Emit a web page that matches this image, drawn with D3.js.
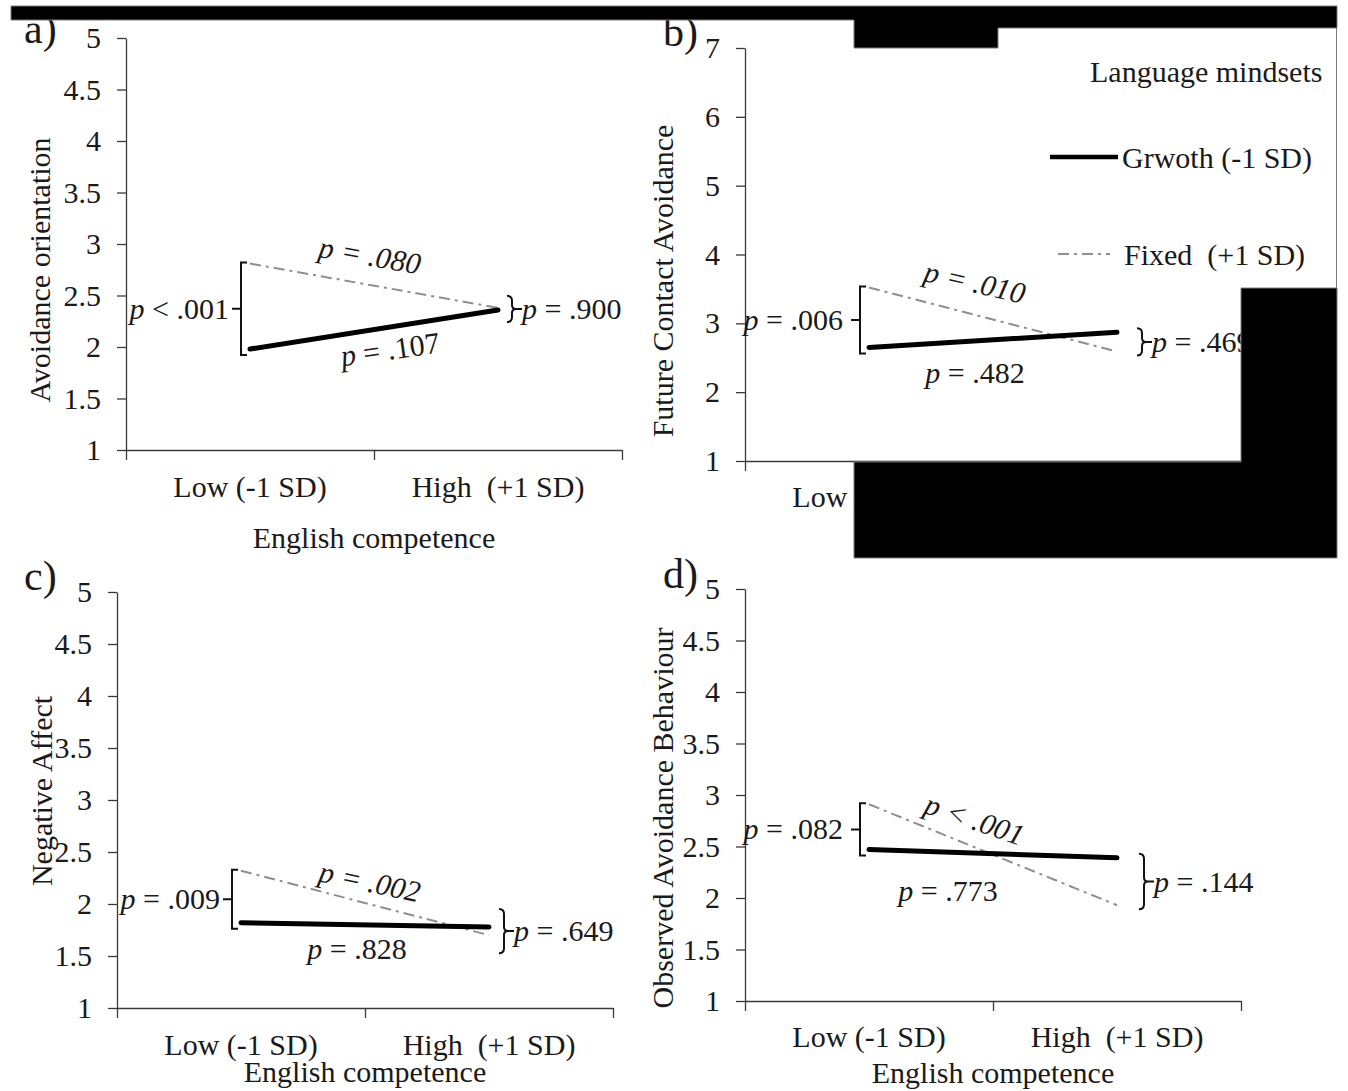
<!DOCTYPE html>
<html>
<head>
<meta charset="utf-8">
<script src="https://cdn.jsdelivr.net/npm/d3@7"></script>
<style>
  html, body { margin: 0; padding: 0; background: #fff; }
  svg { display: block; }
  text { font-family: "Liberation Serif", "Times New Roman", serif; fill: #1a1a1a; white-space: pre; }
</style>
</head>
<body>
<svg id="chart" width="1348" height="1091"></svg>
<script>
// ---------------- data ----------------
const categories = ["Low (-1 SD)", "High  (+1 SD)"];
const seriesNames = ["Grwoth (-1 SD)", "Fixed  (+1 SD)"];
const legendTitle = "Language mindsets";
const xAxisTitle = "English competence";

const ticks1to5 = [1, 1.5, 2, 2.5, 3, 3.5, 4, 4.5, 5];
const ticks1to7 = [1, 2, 3, 4, 5, 6, 7];

const growthA = [1.98, 2.36];
const fixedA  = [2.81, 2.38];
const growthB = [2.65, 2.87];
const fixedB  = [3.52, 2.59];
const growthC = [1.82, 1.78];
const fixedC  = [2.32, 1.70];
const growthD = [2.47, 2.39];
const fixedD  = [2.91, 1.93];

// p-value labels: [left bracket (Low), fixed slope, growth slope, right bracket (High)]
const pA = ["< .001", "= .080", "= .107", "= .900"];
const pB = ["= .006", "= .010", "= .482", "= .469"];
const pC = ["= .009", "= .002", "= .828", "= .649"];
const pD = ["= .082", "< .001", "= .773", "= .144"];

// ---------------- layout ----------------
const panels = [
  { letter: "a)", lx: 24, ly: 43, ax: 126, top: 38, bottom: 450, right: 622,
    domain: [1, 5], ticks: ticks1to5, title: "Avoidance orientation", tx: 39, ty: 270,
    growth: growthA, fixed: fixedA, p: pA, catY: 497, xtY: 548,
    lGap: 3, rGap: 9, rPad: 12,
    fOff: [-4, -31, 10], gOff: [16, 19, -8] },
  { letter: "b)", lx: 663, ly: 46, ax: 745, top: 48, bottom: 461, right: 1241,
    domain: [1, 7], ticks: ticks1to7, title: "Future Contact Avoidance", tx: 662, ty: 281,
    growth: growthB, fixed: fixedB, p: pB, catY: 507, xtY: 552,
    lGap: 8, rGap: 20, rPad: 4,
    fOff: [-18, -38, 13], gOff: [-18, 32, 0], legend: true },
  { letter: "c)", lx: 24, ly: 590, ax: 117, top: 592, bottom: 1008, right: 613,
    domain: [1, 5], ticks: ticks1to5, title: "Negative Affect", tx: 41, ty: 791,
    growth: growthC, fixed: fixedC, p: pC, catY: 1055, xtY: 1082,
    lGap: 3, rGap: 10, rPad: 18,
    fOff: [5, -22, 12], gOff: [-8, 23, 0] },
  { letter: "d)", lx: 663, ly: 588, ax: 745, top: 589, bottom: 1001, right: 1241,
    domain: [1, 5], ticks: ticks1to5, title: "Observed Avoidance Behaviour", tx: 662, ty: 818,
    growth: growthD, fixed: fixedD, p: pD, catY: 1047, xtY: 1083,
    lGap: 8, rGap: 22, rPad: 4,
    fOff: [-18, -36, 19], gOff: [-45, 36, 0] }
];

const FS = 30;
const axisColor = "#3a3a3a";
const fixedColor = "#8f8f8f";
const dashPattern = "11,5,3,5";

const svg = d3.select("#chart");

function pText(g, str, italicAll) {
  g.append("tspan").attr("font-style", "italic").text("p");
  g.append("tspan").attr("font-style", italicAll ? "italic" : "normal").text(" " + str);
}

panels.forEach(P => {
  const g = svg.append("g");
  const y = d3.scaleLinear().domain(P.domain).range([P.bottom, P.top]);
  const x = d3.scaleLinear().domain([0, 2]).range([P.ax, P.right]);
  const cx = [0.5, 1.5];

  const ya = g.append("g").attr("transform", `translate(${P.ax},0)`)
    .call(d3.axisLeft(y).tickValues(P.ticks).tickFormat(d => String(d))
      .tickSize(9).tickSizeOuter(0).tickPadding(16));
  ya.select(".domain").attr("stroke", axisColor).attr("stroke-width", 1.3);
  ya.selectAll(".tick line").attr("stroke", axisColor).attr("stroke-width", 1.3);
  ya.selectAll(".tick text").attr("font-size", FS).attr("font-family", "Liberation Serif").attr("fill", "#1a1a1a");

  const xa = g.append("g").attr("transform", `translate(0,${P.bottom})`)
    .call(d3.axisBottom(x).tickValues([0, 1, 2]).tickFormat(() => "")
      .tickSize(10).tickSizeOuter(0));
  xa.select(".domain").attr("stroke", axisColor).attr("stroke-width", 1.3);
  xa.selectAll(".tick line").attr("stroke", axisColor).attr("stroke-width", 1.3);

  g.selectAll(".cat").data(categories).join("text")
    .attr("x", (d, i) => x(cx[i])).attr("y", P.catY)
    .attr("text-anchor", "middle").attr("font-size", FS).text(d => d);

  g.append("text").attr("x", x(1)).attr("y", P.xtY)
    .attr("text-anchor", "middle").attr("font-size", FS).text(xAxisTitle);

  g.append("text").attr("transform", `translate(${P.tx},${P.ty}) rotate(-90)`)
    .attr("text-anchor", "middle").attr("dominant-baseline", "central")
    .attr("font-size", FS).text(P.title);

  g.append("text").attr("x", P.lx).attr("y", P.ly).attr("font-size", 42).text(P.letter);

  const line = d3.line().x((d, i) => x(cx[i])).y(d => y(d));
  g.append("path").datum(P.fixed).attr("d", line)
    .attr("fill", "none").attr("stroke", fixedColor).attr("stroke-width", 2)
    .attr("stroke-dasharray", dashPattern);
  g.append("path").datum(P.growth).attr("d", line)
    .attr("fill", "none").attr("stroke", "#000").attr("stroke-width", 5)
    .attr("stroke-linecap", "round");

  // left bracket "[" at Low
  const bxL = x(cx[0]) - 9;
  const yL = [y(P.fixed[0]), y(P.growth[0])];
  const lt = Math.min(...yL) - 1, lb = Math.max(...yL) + 6;
  const lm = (lt + lb) / 2;
  g.append("path")
    .attr("d", `M${bxL + 6},${lt} L${bxL},${lt} L${bxL},${lb} L${bxL + 6},${lb} M${bxL},${lm} L${bxL - 9},${lm}`)
    .attr("fill", "none").attr("stroke", "#111").attr("stroke-width", 2);
  const tl = g.append("text").attr("x", bxL - 9 - P.lGap).attr("y", lm + 10)
    .attr("text-anchor", "end").attr("font-size", FS);
  pText(tl, P.p[0], false);

  // right curly bracket "}" at High
  const bxR = x(cx[1]) + P.rGap;
  const yR = [y(P.fixed[1]), y(P.growth[1])];
  const rt = Math.min(...yR) - P.rPad, rb = Math.max(...yR) + P.rPad;
  const rm = (rt + rb) / 2;
  g.append("path")
    .attr("d", `M${bxR},${rt} Q${bxR + 5},${rt} ${bxR + 5},${rt + 5} L${bxR + 5},${rm - 4} Q${bxR + 5},${rm} ${bxR + 9},${rm} ` +
               `Q${bxR + 5},${rm} ${bxR + 5},${rm + 4} L${bxR + 5},${rb - 5} Q${bxR + 5},${rb} ${bxR},${rb} ` +
               `M${bxR + 9},${rm} L${bxR + 15},${rm}`)
    .attr("fill", "none").attr("stroke", "#111").attr("stroke-width", 2);
  const tr = g.append("text").attr("x", bxR + 15).attr("y", rm + 10)
    .attr("font-size", FS);
  pText(tr, P.p[3], false);

  // slope labels
  const mid = (arr) => [x(1), (y(arr[0]) + y(arr[1])) / 2];
  const mf = mid(P.fixed), mg = mid(P.growth);
  const tf = g.append("text")
    .attr("transform", `translate(${mf[0] + P.fOff[0]},${mf[1] + P.fOff[1]}) rotate(${P.fOff[2]})`)
    .attr("text-anchor", "middle").attr("dominant-baseline", "central").attr("font-size", FS);
  pText(tf, P.p[1], true);
  const tg = g.append("text")
    .attr("transform", `translate(${mg[0] + P.gOff[0]},${mg[1] + P.gOff[1]}) rotate(${P.gOff[2]})`)
    .attr("text-anchor", "middle").attr("dominant-baseline", "central").attr("font-size", FS);
  pText(tg, P.p[2], false);

  if (P.legend) {
    const lg = svg.append("g");
    lg.append("text").attr("x", 1090).attr("y", 82).attr("font-size", FS).text(legendTitle);
    const items = [
      { name: seriesNames[0], x1: 1050, x2: 1118, yy: 157, tx: 1122, stroke: "#000", w: 4.5, dash: null },
      { name: seriesNames[1], x1: 1058, x2: 1110, yy: 254, tx: 1124, stroke: fixedColor, w: 2, dash: dashPattern }
    ];
    items.forEach(it => {
      lg.append("line").attr("x1", it.x1).attr("x2", it.x2).attr("y1", it.yy).attr("y2", it.yy)
        .attr("stroke", it.stroke).attr("stroke-width", it.w).attr("stroke-dasharray", it.dash);
      lg.append("text").attr("x", it.tx).attr("y", it.yy + 11).attr("font-size", FS).text(it.name);
    });
  }
});

// redaction blocks (overlay)
const red = svg.append("g");
red.append("path")
  .attr("d", "M11,6 H1337 V28 H998 V48 H854 V20 H11 Z")
  .attr("fill", "#000").attr("stroke", "#7a7a7a").attr("stroke-width", 1);
red.append("path")
  .attr("d", "M1241,288 H1337 V558 H854 V462 H1241 Z")
  .attr("fill", "#000").attr("stroke", "#7a7a7a").attr("stroke-width", 1);
red.append("line").attr("x1", 1336.5).attr("x2", 1336.5).attr("y1", 28).attr("y2", 288)
  .attr("stroke", "#7a7a7a").attr("stroke-width", 1);
</script>
</body>
</html>
